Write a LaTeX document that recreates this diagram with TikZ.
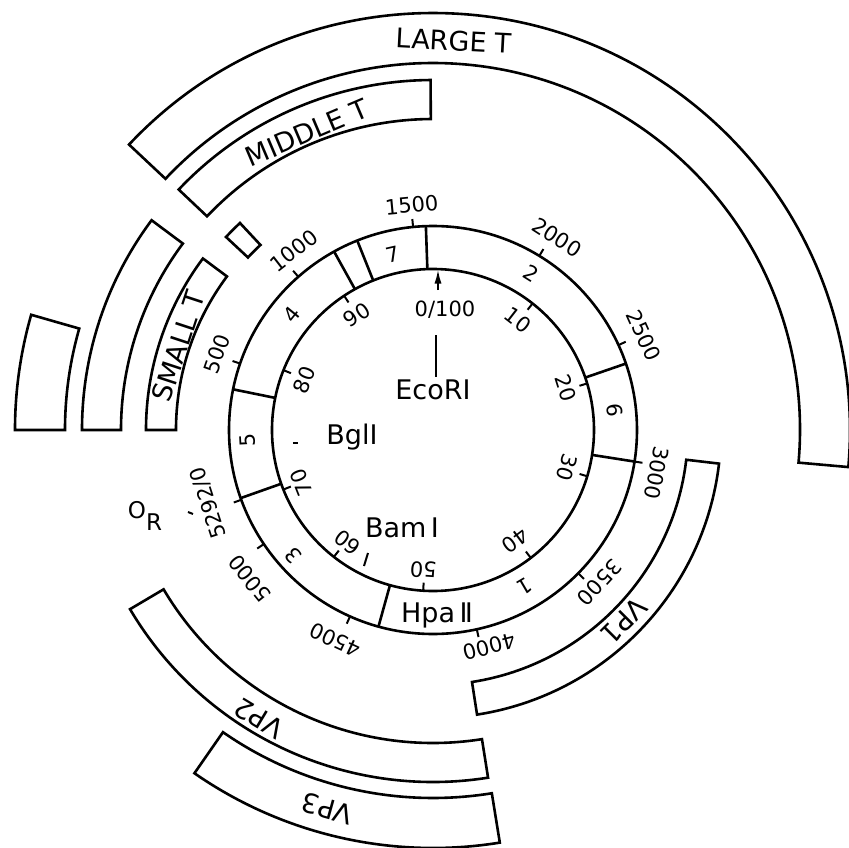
\documentclass[tikz,border=0pt]{standalone}
\usepackage{fontspec}
\setmainfont{DejaVu Sans}
\usetikzlibrary{arrows.meta}

% annular bar: start angle, end angle, inner radius, outer radius
\newcommand{\genebar}[4]{%
  \draw (#1:#4) arc[start angle=#1, end angle=#2, radius=#4] -- (#2:#3) arc[start angle=#2, end angle=#1, radius=#3] -- cycle;}

\begin{document}
\begin{tikzpicture}[x=1pt, y=1pt, line width=2.6pt, line join=miter,
  every node/.style={inner sep=0pt},
  num/.style={font=\fontsize{21}{21}\selectfont},
  site/.style={font=\fontsize{27}{27}\selectfont},
  protein/.style={font=\fontsize{27}{27}\selectfont}]
  \useasboundingbox (-433,-417) rectangle (416,430);
  \clip (-433,-417) rectangle (416,430);

  % early region
  \genebar{180}{164}{368}{418}
  \genebar{136.8}{-5.1}{367}{417}
  \genebar{180}{143.3}{312}{351}
  \genebar{136.6}{90.4}{311}{350}
  \genebar{180}{143.3}{257}{287}
  \genebar{137}{133}{253}{283}

  % late region
  \genebar{-81.2}{-6.7}{255}{288}
  \genebar{210.6}{279}{313}{352}
  \genebar{235.2}{279.2}{368}{418}

  % map ring
  \draw (0,0) circle[radius=161];
  \draw (0,0) circle[radius=204];
  \foreach \a in {92, 19, -8.9, -105.5, 199.5, 168.5, 119, 111.8}
    \draw (\a:161) -- (\a:204);
  \foreach \a in {200, 161, 131.3, 95.6, 58.6, 24.6, -8.9, -44.6, -77.6, -114, -146}
    \draw[line width=2pt] (\a:204) -- (\a:212);
  \foreach \a in {51.8, 16.8, -16.7, -52.6, -93.5, -128, -158.3, 158.2, 123.5}
    \draw[line width=2pt] (\a:161) -- (\a:153);

  % nucleotide numbers
  \node (n0) [num, rotate=108] at (198:236) {5292/0};
  \node (n500) [num, rotate=70.6] at (160.6:229) {500};
  \node (n1000) [num, rotate=37.8] at (127.8:227) {1000};
  \node (n1500) [num, rotate=5.4] at (95.4:226) {1500};
  \node (n2000) [num, rotate=-32.8] at (57.2:229) {2000};
  \node (n2500) [num, rotate=-65.9] at (24.1:231) {2500};
  \node (n3000) [num, rotate=-100.9] at (-10.9:228) {3000};
  \node (n3500) [num, rotate=-132.5] at (-42.5:226) {3500};
  \node (n4000) [num, rotate=-165.3] at (-75.3:224) {4000};
  \node (n4500) [num, rotate=155] at (-115:232) {4500};
  \node (n5000) [num, rotate=129] at (-141:236) {5000};

  % map units
  \node (m0) [num] at (12,120) {0/100};
  \node (m10) [num, rotate=-37.7] at (52.3:139) {10};
  \node (m20) [num, rotate=-72.4] at (17.6:139) {20};
  \node (m30) [num, rotate=-105.8] at (-15.8:139) {30};
  \node (m40) [num, rotate=-143.3] at (-53.3:138) {40};
  \node (m50) [num, rotate=176] at (-94:140) {50};
  \node (m60) [num, rotate=142.7] at (232.7:141) {60};
  \node (m70) [num, rotate=111.7] at (201.7:142) {70};
  \node (m80) [num, rotate=68.7] at (158.7:138) {80};
  \node (m90) [num, rotate=33.5] at (123.5:138) {90};

  % HpaII fragments
  \node (f7) [num, rotate=13] at (103:180) {7};
  \node (f2) [num, rotate=-32] at (58:185) {2};
  \node (f6) [num, rotate=-83.7] at (6.3:183) {6};
  \node (f1) [num, rotate=-149.6] at (-59.6:182) {1};
  \node (f3) [num, rotate=132] at (222:188) {3};
  \node (f5) [num, rotate=93] at (183:186) {5};
  \node (f4) [num, rotate=50.8] at (140.8:182) {4};
  \node (hpa) [site] at (4,-185) {Hpa\,Ⅱ};

  % sites
  \node (eco) [site] at (0,40) {EcoRI};
  \node (bgl) [site] at (-81,-7) {BglI};
  \node (bam) [site] at (-31,-98) {Bam\,I};
  \node (ori) [font=\fontsize{23}{23}\selectfont] at (-288,-86) {O\raisebox{-12pt}{R}};
  \coordinate (ecotop) at (3,95);
  \coordinate (ecobot) at (3,53);
  \draw[line width=2pt] (ecotop) -- (ecobot);
  \draw[-{Latex[length=14pt,width=7pt]}, line width=1.8pt] (5,140) -- (5,160.5);
  \draw[line width=2pt] (-140,-13) -- (-135,-13);
  \draw[line width=2pt] (-65,-123) -- (-69,-136);
  \draw[line width=2pt] (-245,-82) -- (-240,-84);

  % proteins
  \node (larget) [protein, rotate=-3] at (21,389) {LARGE T};
  \node (middlet) [protein, rotate=23] at (113:323) {MIDDLE T};
  \node (smallt) [protein, rotate=71.8] at (161.8:268) {SMALL T};
  \node (vp1) [protein, rotate=-135] at (-45:270) {VP1};
  \node (vp2) [protein, rotate=148.9] at (238.9:337) {VP2};
  \node (vp3) [protein, rotate=164.4] at (254.4:393) {VP3};
\end{tikzpicture}
\end{document}
